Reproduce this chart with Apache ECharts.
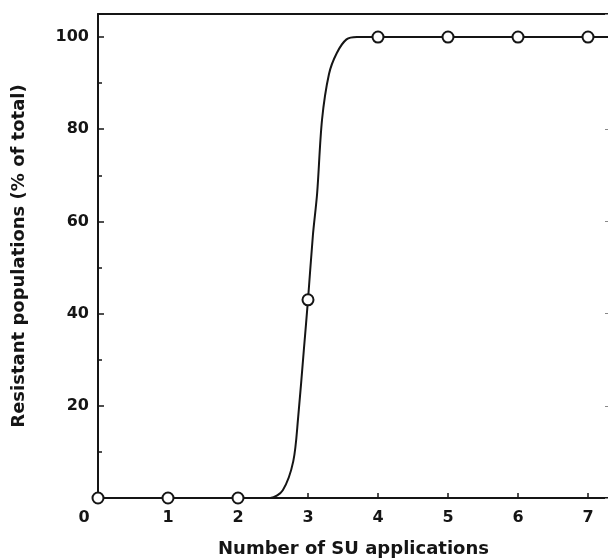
<!DOCTYPE html>
<html>
<head>
<meta charset="utf-8">
<script src="https://cdn.jsdelivr.net/npm/echarts@6/dist/echarts.min.js"></script>
<style>html,body{margin:0;padding:0;background:#fff}#c{width:608px;height:560px}</style>
</head>
<body>
<div id="c"></div>
<script>
// Observed points
const applications = [0, 1, 2, 3, 4, 5, 6, 7];
const resistantPct = [0, 0, 0, 43, 100, 100, 100, 100];
// Hand-drawn fitted curve
const curveX = [0, 1, 2, 2.46, 2.64, 2.79, 2.86, 2.94, 3.0, 3.07, 3.13, 3.2, 3.3, 3.41, 3.55, 3.7, 4, 5, 6, 7, 7.3];
const curveY = [0, 0, 0, 0, 1.7, 8, 17.6, 32, 43, 57, 66, 82, 92, 96.5, 99.5, 100, 100, 100, 100, 100, 100];
const yTicks = [20, 40, 60, 80, 100];
const xTitle = 'Number of SU applications';
const yTitle = 'Resistant populations (% of total)';

const ink = '#151515';
const font = 'DejaVu Sans';
const chart = echarts.init(document.getElementById('c'), null, {renderer: 'canvas'});
chart.setOption({
  animation: false,
  grid: {left: 98, top: 14, width: 511, height: 484, outerBoundsMode: 'none', containLabel: false},
  xAxis: [{
    type: 'value', min: 0, max: 7.3, interval: 1, position: 'bottom',
    axisLine: {show: true, onZero: false, lineStyle: {color: ink, width: 2}},
    axisTick: {show: true, inside: true, length: 5, lineStyle: {color: ink, width: 1.5}},
    splitLine: {show: false},
    axisLabel: {
      margin: 12, color: ink, fontFamily: font, fontWeight: 'bold', fontSize: 16,
      formatter: v => (Math.abs(v - Math.round(v)) < 1e-6 && v <= 7) ? (v === 0 ? '{z|0}' : String(v)) : '',
      rich: {z: {padding: [0, 28, 0, 0], color: ink, fontFamily: font, fontWeight: 'bold', fontSize: 16}}
    },
    name: xTitle, nameLocation: 'middle', nameGap: 42,
    nameTextStyle: {color: ink, fontFamily: font, fontWeight: 'bold', fontSize: 18}
  }, {
    type: 'value', min: 0, max: 7.3, position: 'top',
    axisLine: {show: true, onZero: false, lineStyle: {color: ink, width: 2}},
    axisTick: {show: false}, axisLabel: {show: false}, splitLine: {show: false}
  }],
  yAxis: [{
    type: 'value', min: 0, max: 105, interval: 20, position: 'left',
    axisLine: {show: true, onZero: false, lineStyle: {color: ink, width: 2}},
    axisTick: {show: true, inside: true, length: 6, lineStyle: {color: ink, width: 1.5}},
    minorTick: {show: true, splitNumber: 2, length: 4, lineStyle: {color: ink, width: 1.5}},
    splitLine: {show: false},
    axisLabel: {
      margin: 9, color: ink, fontFamily: font, fontWeight: 'bold', fontSize: 16,
      formatter: v => yTicks.includes(v) ? String(v) : ''
    },
    name: yTitle, nameLocation: 'middle', nameGap: 70, nameRotate: 90,
    nameTextStyle: {color: ink, fontFamily: font, fontWeight: 'bold', fontSize: 18}
  }, {
    type: 'value', min: 0, max: 105, interval: 20, position: 'right',
    axisLine: {show: false, onZero: false},
    axisTick: {show: true, inside: true, length: 4, lineStyle: {color: '#888', width: 1}},
    axisLabel: {show: false}, splitLine: {show: false}
  }],
  series: [{
    type: 'line', xAxisIndex: 0, yAxisIndex: 0,
    data: curveX.map((x, i) => [x, curveY[i]]),
    smooth: 0.3, showSymbol: false, symbol: 'none',
    lineStyle: {color: ink, width: 2}, z: 2
  }, {
    type: 'scatter', xAxisIndex: 0, yAxisIndex: 0,
    data: applications.map((x, i) => [x, resistantPct[i]]),
    symbol: 'circle', symbolSize: 11,
    itemStyle: {color: '#fff', borderColor: ink, borderWidth: 2, opacity: 1}, z: 5
  }]
});
</script>
</body>
</html>
